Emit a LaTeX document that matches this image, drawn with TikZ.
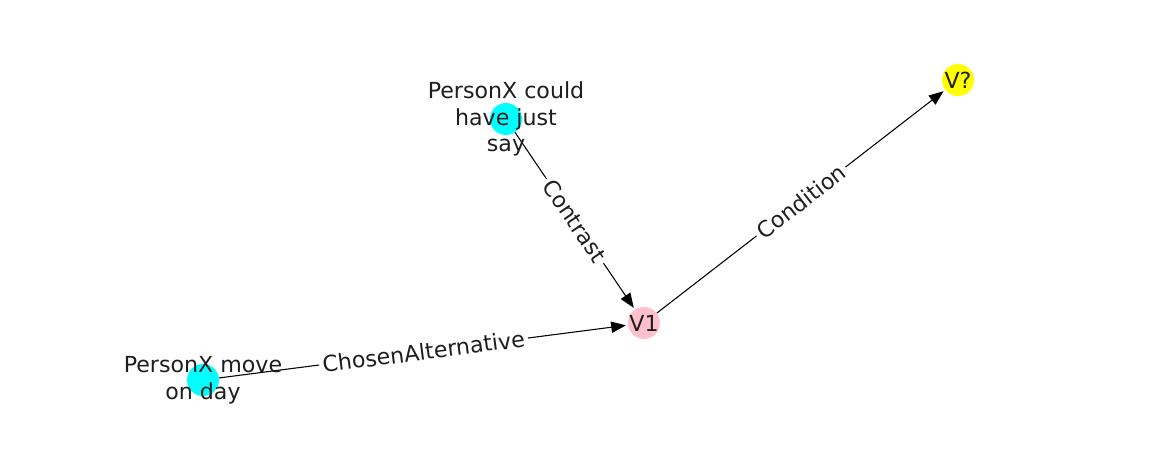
\documentclass[tikz,border=0pt]{standalone}
\usepackage{fontspec}
\setmainfont{DejaVu Sans}
\usetikzlibrary{arrows.meta}
\definecolor{nodecyan}{RGB}{0,255,255}
\definecolor{nodepink}{RGB}{255,192,203}
\definecolor{nodeyellow}{RGB}{255,255,0}
\definecolor{textgray}{RGB}{30,30,30}
\tikzset{graphnode/.style={circle,draw=none,
inner sep=0pt,minimum size=24pt}}
\tikzset{graphtext/.style={rectangle,draw=none,align=center,text=textgray,
inner sep=0pt,font=\fontsize{16.6}{19.9}\selectfont}}
\tikzset{graphedge/.style={line width=0.8pt,
-{Triangle[length=11pt,width=8.5pt]},shorten >=1.5pt}}
\tikzset{edgelabel/.style={rectangle,draw=none,fill=white,sloped,text=textgray,
inner sep=2.5pt,font=\fontsize{16.6}{19.9}\selectfont}}

\begin{document}
\begin{tikzpicture}[x=0.75pt,y=-0.75pt]
        \useasboundingbox (0,0) rectangle (1162,462);

        \node[graphnode,fill=nodecyan] (nodeA) at (506,119) {};
        \node[graphnode,fill=nodecyan] (nodeB) at (203,380) {};
        \node[graphnode,fill=nodepink] (nodeC) at (644,323) {};
        \node[graphnode,fill=nodeyellow] (nodeD) at (958,80) {};

        \draw[graphedge] (nodeA) -- node[edgelabel] {Contrast} (nodeC);
        \draw[graphedge] (nodeB) -- node[edgelabel] {ChosenAlternative} (nodeC);
        \draw[graphedge] (nodeC) -- node[edgelabel] {Condition} (nodeD);

        \node[graphtext] (textA) at (nodeA) {PersonX could\\have just\\say};
        \node[graphtext] (textB) at (nodeB) {PersonX move\\on day};
        \node[graphtext] (textC) at (nodeC) {V1};
        \node[graphtext] (textD) at (nodeD) {V?};

    \end{tikzpicture}
\end{document}
